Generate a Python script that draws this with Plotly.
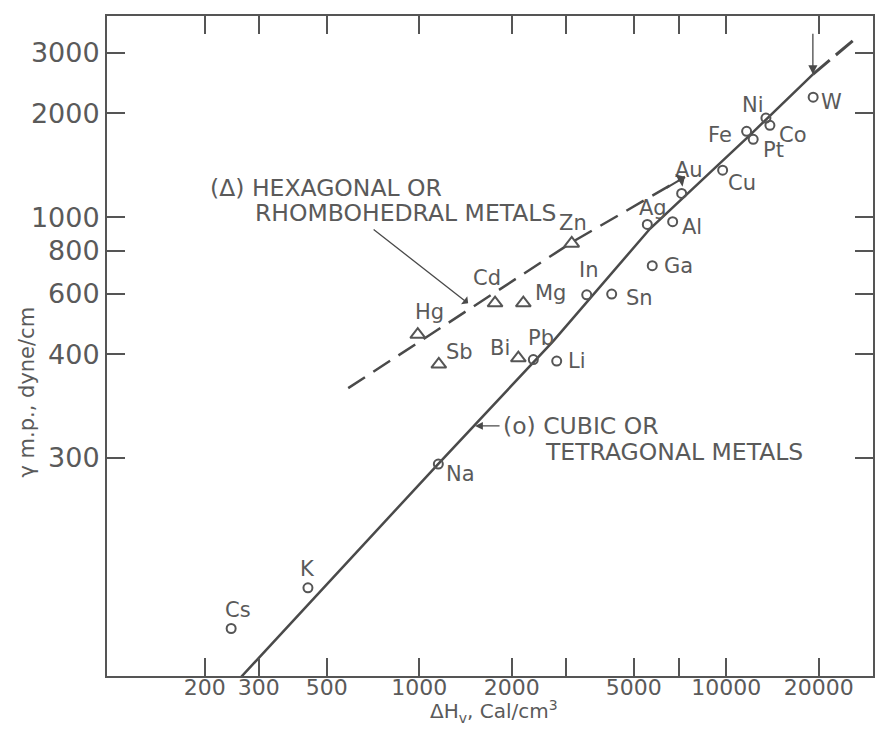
import numpy as np
import plotly.graph_objects as go

# ---- data (ΔHv in cal/cm3, γ at m.p. in dyne/cm) ----
cubic_names = ["Cs", "K", "Na", "Pb", "Li", "In", "Sn", "Ga", "Ag", "Al",
               "Au", "Cu", "Fe", "Pt", "Ni", "Co", "W"]
cubic_dHv = [244, 434, 1154, 2353, 2804, 3512, 4235, 5741, 5532, 6690,
             7157, 9732, 11650, 12240, 13465, 13875, 19190]
cubic_gamma = [64, 84, 192, 386, 382, 595, 598, 723, 952, 970,
               1171, 1368, 1774, 1682, 1938, 1846, 2228]

hex_names = ["Hg", "Sb", "Cd", "Mg", "Zn", "Bi"]
hex_dHv = [989, 1158, 1766, 2183, 3138, 2103]
hex_gamma = [456, 374, 563, 563, 839, 390]

# fitted lines
cubic_line_dHv = [263, 1152, 2728, 5644, 11944, 19150]
cubic_line_gamma = [46.3, 192, 436, 925, 1730, 2597]
cubic_ext_dHv = [19150, 26840]
cubic_ext_gamma = [2597, 3344]

hex_line_dHv = [587, 3169, 7337]
hex_line_gamma = [319, 849, 1309]

# axes
x_tickvals = [200, 300, 500, 1000, 2000, 3000, 5000, 7000, 10000, 20000]
x_ticktext = ["200", "300", "500", "1000", "2000", "", "5000", "", "10000", "20000"]
y_tickvals = [200, 400, 600, 800, 1000, 2000, 3000]
y_ticktext = ["300", "400", "600", "800", "1000", "2000", "3000"]

# ---- styling (label offsets in px: dx right, dy up) ----
label_offsets = {
    "Cs": (7, 18), "K": (0, 19), "Na": (22, -10), "Pb": (8, 22), "Li": (20, 0),
    "In": (2, 25), "Sn": (28, -4), "Ga": (26, 0), "Ag": (6, 16), "Al": (19, -5),
    "Au": (7, 23), "Cu": (19, -13), "Fe": (-27, -4), "Pt": (20, -11),
    "Ni": (-13, 13), "Co": (23, -10), "W": (18, -5),
    "Hg": (12, 23), "Sb": (21, 12), "Cd": (-8, 25), "Mg": (27, 10),
    "Zn": (1, 20), "Bi": (-18, 10),
}
INK = "#555555"
LINE = "#4a4a4a"
TXT = "#5a5a5a"
FONT = "DejaVu Sans"

fig = go.Figure()

fig.add_trace(go.Scatter(x=cubic_line_dHv, y=cubic_line_gamma, mode="lines",
                         line=dict(color=LINE, width=2.5), showlegend=False))
fig.add_trace(go.Scatter(x=cubic_ext_dHv, y=cubic_ext_gamma, mode="lines",
                         line=dict(color=LINE, width=3, dash="22px,8px"), showlegend=False))
fig.add_trace(go.Scatter(x=hex_line_dHv, y=hex_line_gamma, mode="lines",
                         line=dict(color=LINE, width=2.5, dash="20px,10px"), showlegend=False))

fig.add_trace(go.Scatter(x=cubic_dHv, y=cubic_gamma, mode="markers",
                         marker=dict(symbol="circle-open", size=9, color=INK,
                                     line=dict(width=2, color=INK)),
                         showlegend=False))
fig.add_trace(go.Scatter(x=hex_dHv, y=hex_gamma, mode="markers",
                         marker=dict(symbol="triangle-up-open", size=13, color=INK,
                                     line=dict(width=2, color=INK)),
                         showlegend=False))

annotations = []
for names, xs, ys in ((cubic_names, cubic_dHv, cubic_gamma), (hex_names, hex_dHv, hex_gamma)):
    for n, xv, yv in zip(names, xs, ys):
        dx, dy = label_offsets[n]
        annotations.append(dict(x=np.log10(xv), y=np.log10(yv), xref="x", yref="y",
                                text=n, showarrow=False, xshift=dx, yshift=dy,
                                font=dict(family=FONT, size=21, color=TXT)))

# arrow at end of dashed hexagonal line
annotations.append(dict(x=np.log10(hex_line_dHv[-1]), y=np.log10(hex_line_gamma[-1]),
                        xref="x", yref="y", text="", showarrow=True, ax=-20, ay=12,
                        arrowhead=1, arrowsize=1.2, arrowwidth=2, arrowcolor=LINE))
# arrow marking W
annotations.append(dict(x=np.log10(cubic_ext_dHv[0]), y=np.log10(cubic_ext_gamma[0]),
                        xref="x", yref="y", text="", showarrow=True, ax=0, ay=-42,
                        arrowhead=2, arrowsize=1.4, arrowwidth=1.3, arrowcolor=LINE))

# captions
cap_font = dict(family=FONT, size=23.5, color=TXT)
annotations += [
    dict(xref="paper", yref="paper", x=0.132, y=0.739, xanchor="left", yanchor="middle",
         text="(Δ) HEXAGONAL OR", showarrow=False, font=cap_font),
    dict(xref="paper", yref="paper", x=0.190, y=0.701, xanchor="left", yanchor="middle",
         text="RHOMBOHEDRAL METALS", showarrow=False, font=cap_font),
    dict(xref="paper", yref="paper", x=0.514, y=0.379, xanchor="left", yanchor="middle",
         text="(o) CUBIC OR", showarrow=False, font=cap_font),
    dict(xref="paper", yref="paper", x=0.569, y=0.339, xanchor="left", yanchor="middle",
         text="TETRAGONAL METALS", showarrow=False, font=cap_font),
]
# caption arrows (tips on the fitted lines)
annotations.append(dict(x=np.log10(1443), y=np.log10(562), xref="x", yref="y", text="",
                        showarrow=True, ax=-96, ay=-75, arrowhead=1, arrowsize=1.3,
                        arrowwidth=1.3, arrowcolor=LINE))
annotations.append(dict(x=np.log10(1520), y=np.log10(247.7), xref="x", yref="y", text="",
                        showarrow=True, ax=26, ay=0, arrowhead=2, arrowsize=1.2,
                        arrowwidth=1.3, arrowcolor=LINE))

# axis titles
annotations.append(dict(xref="paper", yref="paper", x=-0.104, y=0.43, text="γ m.p., dyne/cm",
                        textangle=-90, showarrow=False, xanchor="center", yanchor="middle",
                        font=dict(family=FONT, size=21, color=TXT)))
annotations.append(dict(xref="paper", yref="paper", x=0.505, y=-0.054,
                        text="ΔH<sub>v</sub>, Cal/cm<sup>3</sup>", showarrow=False,
                        xanchor="center", yanchor="middle",
                        font=dict(family=FONT, size=20, color=TXT)))

axis_common = dict(type="log", ticks="inside", ticklen=18, tickwidth=2, tickcolor=INK,
                   showline=True, linewidth=2, linecolor=INK, mirror="ticks",
                   showgrid=False, zeroline=False)

# page has an 8px body margin: figure 877x721 fills the 893x737 window
fig.update_layout(
    width=877, height=721,
    margin=dict(l=99, r=12, t=6, b=53),
    paper_bgcolor="white", plot_bgcolor="white",
    showlegend=False,
    annotations=annotations,
    xaxis=dict(range=[1.983, 4.478], tickvals=x_tickvals, ticktext=x_ticktext,
               tickfont=dict(family=FONT, size=22, color=TXT), ticklabelstandoff=-9,
               **axis_common),
    yaxis=dict(range=[1.6683, 3.5836], tickvals=y_tickvals, ticktext=y_ticktext,
               tickfont=dict(family=FONT, size=27, color=TXT), **axis_common),
)

fig.write_html("out.html")
